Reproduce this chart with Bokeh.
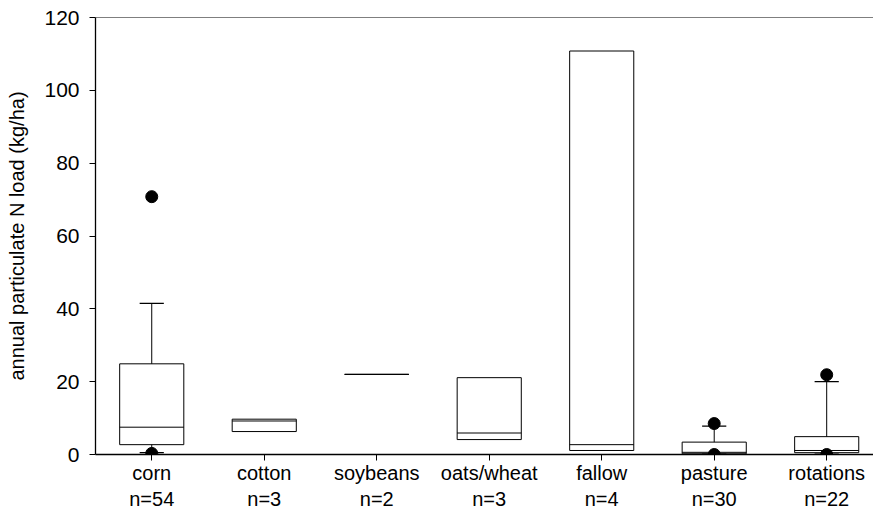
from bokeh.plotting import figure
from bokeh.models import FixedTicker, Range1d, Span, ColumnDataSource
from bokeh.embed import file_html
from bokeh.resources import INLINE

categories = ["corn", "cotton", "soybeans", "oats/wheat", "fallow", "pasture", "rotations"]
n_obs = [54, 3, 2, 3, 4, 30, 22]
q1 = [2.7, 6.3, 22.0, 4.1, 1.1, 0.2, 0.5]
median = [7.5, 9.2, 22.0, 5.9, 2.7, 0.6, 1.1]
q3 = [24.9, 9.7, 22.0, 21.1, 110.8, 3.4, 4.9]

# whiskers (only for groups large enough)
whisker_cat = ["corn", "pasture", "rotations"]
whisker_low = [0.5, 0.1, 0.1]
whisker_high = [41.5, 7.8, 20.0]

# 5th / 95th percentile points
outlier_cat = ["corn", "corn", "pasture", "pasture", "rotations", "rotations"]
outlier_val = [70.8, 0.3, 8.5, 0.0, 21.9, 0.0]

y_ticks = [0, 20, 40, 60, 80, 100, 120]

FONT = "Liberation Sans"
box_w = 0.57
cap_w = 0.215

xpos = {c: i + 1 for i, c in enumerate(categories)}
xs = [xpos[c] for c in categories]

p = figure(width=873, height=520, output_backend="svg", toolbar_location=None,
           x_range=Range1d(0.5, 7.416), y_range=Range1d(0, 120),
           min_border_left=95, min_border_right=0, min_border_top=17, min_border_bottom=66)
p.outline_line_color = None
p.xgrid.visible = False
p.ygrid.visible = False
p.background_fill_color = "white"
p.border_fill_color = "white"

# top frame line
p.add_layout(Span(location=120, dimension="width", line_color="black", line_width=1.2))

# boxes
box_src = ColumnDataSource(dict(
    x=xs,
    left=[x - box_w / 2 for x in xs],
    right=[x + box_w / 2 for x in xs],
    q1=q1, q3=q3, med=median))
p.quad(left="left", right="right", bottom="q1", top="q3", source=box_src,
       fill_color="white", line_color="black", line_width=1)
p.segment(x0="left", x1="right", y0="med", y1="med", source=box_src,
          line_color="black", line_width=1)

# whiskers
wx = [xpos[c] for c in whisker_cat]
w_q1 = [q1[categories.index(c)] for c in whisker_cat]
w_q3 = [q3[categories.index(c)] for c in whisker_cat]
w_src = ColumnDataSource(dict(
    x=wx, lo=whisker_low, hi=whisker_high, q1=w_q1, q3=w_q3,
    cl=[x - cap_w / 2 for x in wx], cr=[x + cap_w / 2 for x in wx]))
p.segment(x0="x", x1="x", y0="q3", y1="hi", source=w_src, line_color="black", line_width=1)
p.segment(x0="x", x1="x", y0="q1", y1="lo", source=w_src, line_color="black", line_width=1)
p.segment(x0="cl", x1="cr", y0="hi", y1="hi", source=w_src, line_color="black", line_width=1.3)
p.segment(x0="cl", x1="cr", y0="lo", y1="lo", source=w_src, line_color="black", line_width=1.3)

# outlier points
p.scatter(x=[xpos[c] for c in outlier_cat], y=outlier_val, size=12,
          fill_color="black", line_color="black")

# axes
p.yaxis.ticker = FixedTicker(ticks=y_ticks)
p.yaxis.minor_tick_line_color = None
p.yaxis.major_tick_in = 0
p.yaxis.major_tick_out = 6
p.yaxis.axis_line_width = 1.3
p.yaxis.major_label_text_font = FONT
p.yaxis.major_label_text_font_size = "21px"
p.yaxis.major_label_text_color = "black"
p.yaxis.major_label_standoff = 10
p.yaxis.axis_label = "annual particulate N load (kg/ha)"
p.yaxis.axis_label_text_font = FONT
p.yaxis.axis_label_text_font_style = "normal"
p.yaxis.axis_label_text_font_size = "20px"
p.yaxis.axis_label_text_color = "black"
p.yaxis.axis_label_standoff = 13

p.xaxis.ticker = FixedTicker(ticks=xs)
p.xaxis.major_label_overrides = {x: f"{c}\nn={n}" for x, c, n in zip(xs, categories, n_obs)}
p.xaxis.minor_tick_line_color = None
p.xaxis.major_tick_in = 0
p.xaxis.major_tick_out = 6
p.xaxis.axis_line_width = 1.3
p.xaxis.major_label_text_font = FONT
p.xaxis.major_label_text_font_size = "20px"
p.xaxis.major_label_text_color = "black"
p.xaxis.major_label_standoff = 1

open("out.html", "w").write(file_html(p, INLINE))
